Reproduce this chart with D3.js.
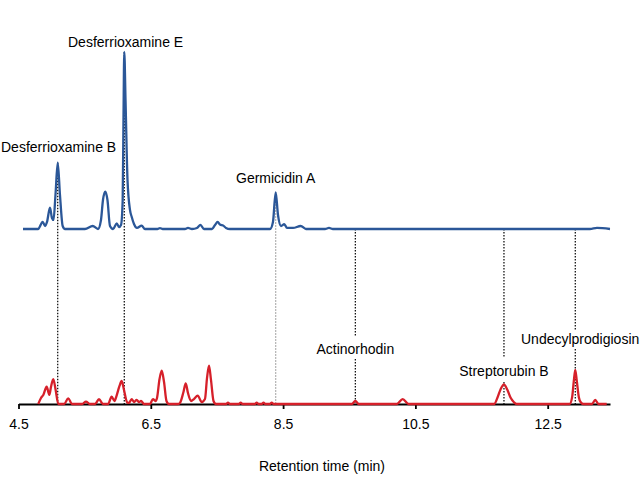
<!DOCTYPE html>
<html>
<head>
<meta charset="utf-8">
<script src="https://cdn.jsdelivr.net/npm/d3@7"></script>
<style>
  html, body { margin: 0; padding: 0; background: #fff; }
  svg text { font-family: "Liberation Sans", Arial, Helvetica, sans-serif; fill: #000; }
</style>
</head>
<body>
<svg id="chart" width="644" height="479"></svg>
<script>
// ---------------- DATA ----------------
// Retention time (min) and relative intensity
const blueTimes = [4.568, 4.795, 4.866, 4.901, 4.931, 4.976, 5.006, 5.029, 5.059, 5.093, 5.127, 5.168, 5.203,
  5.505, 5.622, 5.702, 5.747, 5.777, 5.812, 5.845, 5.883, 5.929, 5.985, 6.019, 6.050, 6.075, 6.087, 6.099,
  6.118, 6.148, 6.186, 6.211, 6.246, 6.291, 6.362, 6.412, 6.600, 6.639, 6.680, 7.017, 7.062, 7.123, 7.198,
  7.251, 7.304, 7.425, 7.471, 7.511, 7.546, 7.596, 7.637, 7.697, 8.302, 8.347, 8.388, 8.423, 8.468, 8.518,
  8.559, 8.650, 8.766, 8.846, 9.133, 9.194, 9.254, 13.139, 13.245, 13.442];
const blueValues = [0, 0, 4.0, 1.7, 4.0, 12.0, 6.2, 5.1, 19.2, 37.5, 19.2, 1.7, 0,
  0, 1.7, 0, 5.1, 16.4, 21.1, 16.4, 1.7, 0, 3.2, 1.1, 2.3, 16.4, 61.6, 100,
  72.9, 27.7, 10.7, 6.9, 2.8, 0.6, 1.9, 0, 0, 0.5, 0, 0, 0.6, 0, 0.6,
  2.3, 0, 0, 2.3, 4.0, 2.5, 1.9, 0.6, 0, 0, 4.0, 20.7, 7.9, 1.7, 2.7,
  0.6, 0.6, 1.7, 0, 0, 0.6, 0, 0, 0.6, 0];

const redTimes = [4.799, 4.840, 4.875, 4.926, 4.966, 4.991, 5.026, 5.059, 5.102, 5.188, 5.253, 5.309,
  5.460, 5.520, 5.581, 5.657, 5.717, 5.777, 5.853, 5.909, 5.951, 5.981, 6.027, 6.060, 6.095, 6.140,
  6.170, 6.211, 6.246, 6.287, 6.322, 6.352, 6.397, 6.488, 6.533, 6.571, 6.594, 6.632, 6.665, 6.700,
  6.737, 6.775, 6.911, 6.941, 6.994, 7.028, 7.062, 7.108, 7.153, 7.209, 7.270, 7.319, 7.350, 7.380,
  7.410, 7.448, 7.486, 7.637, 7.667, 7.697, 7.829, 7.859, 7.889, 8.071, 8.101, 8.131, 8.174, 8.204,
  8.234, 8.298, 8.328, 8.358, 9.540, 9.592, 9.644, 10.220, 10.308, 10.396, 11.693, 11.740, 11.790,
  11.839, 11.890, 11.940, 11.990, 12.031, 12.832, 12.870, 12.895, 12.917, 12.940, 12.970, 13.000,
  13.040, 13.169, 13.219, 13.269, 13.392];
const redValues = [0, 3.4, 5.1, 9.8, 5.1, 9.6, 14.1, 8.5, 0, 0, 3.2, 0,
  0, 1.3, 0, 0, 2.7, 0, 0, 4.1, 1.7, 4.5, 10.2, 13.0, 7.9, 1.1,
  0.6, 2.8, 1.1, 2.3, 1.1, 1.7, 0, 0, 2.8, 1.7, 3.4, 14.1, 18.8, 12.4,
  1.7, 0, 0, 0.6, 6.8, 11.7, 6.2, 1.7, 2.8, 4.7, 1.1, 2.8, 14.7, 21.6,
  13.6, 1.7, 0, 0, 0.7, 0, 0, 0.7, 0, 0, 0.7, 0, 0, 0.7,
  0, 0, 0.7, 0, 0, 1.7, 0, 0, 2.8, 0, 0, 3.5, 8.5,
  11.1, 8.0, 3.5, 1.0, 0, 0, 4.0, 13.0, 19.2, 13.0, 4.0, 1.0,
  0, 0, 2.3, 0, 0];

const compoundNames = ["Desferrioxamine B", "Desferrioxamine E", "Germicidin A",
  "Actinorhodin", "Streptorubin B", "Undecylprodigiosin"];
const compoundTimes = [5.093, 6.099, 8.388, 9.592, 11.839, 12.917];

const tickValues = [4.5, 6.5, 8.5, 10.5, 12.5];
const xAxisTitle = "Retention time (min)";

// ---------------- CHART ----------------
const svg = d3.select("#chart");
const x = d3.scaleLinear().domain([4.5, 13.442]).range([18.5, 610]);
const yBlue = d3.scaleLinear().domain([0, 100]).range([229, 52]);
const yRed = d3.scaleLinear().domain([0, 100]).range([404, 227]);

const blueData = blueTimes.map((t, i) => ({ t, v: blueValues[i] }));
const redData = redTimes.map((t, i) => ({ t, v: redValues[i] }));

const BLUE = "#2b5798";
const RED = "#d6202a";

// label / marker layout (not data)
const layout = {
  "Desferrioxamine B": { anchor: "start", lx: 1, ly: 152, segs: [["peak", "base"]], color: "#000" },
  "Desferrioxamine E": { anchor: "start", lx: 68, ly: 47, segs: [["peak", "base"]], color: "#000" },
  "Germicidin A": { anchor: "middle", lx: 0, ly: 183, segs: [["peak", "base"]], color: "#999" },
  "Actinorhodin": { anchor: "middle", lx: 0, ly: 354, segs: [[229, 337], [359, 404]], color: "#000" },
  "Streptorubin B": { anchor: "middle", lx: 0, ly: 376, segs: [[229, 357], [382, 404]], color: "#000" },
  "Undecylprodigiosin": { anchor: "start", lx: 521, ly: 344, segs: [[229, 331], [349, 404]], color: "#000" }
};

// dotted marker lines (behind traces)
const gMarks = svg.append("g");
compoundNames.forEach((name, i) => {
  const L = layout[name];
  const cx = x(compoundTimes[i]);
  L.segs.forEach(s => {
    let y1 = s[0], y2 = s[1];
    if (y1 === "peak") {
      const near = blueData.reduce((a, b) => Math.abs(b.t - compoundTimes[i]) < Math.abs(a.t - compoundTimes[i]) ? b : a);
      y1 = yBlue(near.v);
    }
    if (y2 === "base") y2 = yRed(0);
    gMarks.append("line")
      .attr("x1", cx).attr("x2", cx).attr("y1", y1).attr("y2", y2)
      .attr("stroke", L.color).attr("stroke-width", 1.2)
      .attr("stroke-dasharray", "1.5,1.5");
  });
});

// axis
const axis = d3.axisBottom(x).tickValues(tickValues).tickSize(5).tickSizeOuter(0).tickPadding(10)
  .tickFormat(d3.format(".1f"));
const gAxis = svg.append("g").attr("transform", `translate(0,${yRed(0)})`).call(axis);
gAxis.select(".domain").attr("stroke", "#000").attr("stroke-width", 1.8);
gAxis.selectAll(".tick line").attr("stroke", "#000").attr("stroke-width", 1.8);
gAxis.selectAll(".tick text").attr("font-size", 14).attr("fill", "#000")
  .attr("font-family", '"Liberation Sans", Arial, sans-serif');

// traces
const lineBlue = d3.line().x(d => x(d.t)).y(d => yBlue(d.v)).curve(d3.curveMonotoneX);
const lineRed = d3.line().x(d => x(d.t)).y(d => yRed(d.v)).curve(d3.curveMonotoneX);

svg.append("path").datum(blueData).attr("d", lineBlue)
  .attr("fill", "none").attr("stroke", BLUE).attr("stroke-width", 2.3).attr("stroke-linejoin", "round");
svg.append("path").datum(redData).attr("d", lineRed)
  .attr("fill", "none").attr("stroke", RED).attr("stroke-width", 2.3).attr("stroke-linejoin", "round");

// compound labels
compoundNames.forEach((name, i) => {
  const L = layout[name];
  const px = L.anchor === "middle" ? x(compoundTimes[i]) : L.lx;
  svg.append("text").attr("x", px).attr("y", L.ly)
    .attr("text-anchor", L.anchor).attr("font-size", 14).text(name);
});

// axis title
svg.append("text").attr("x", 322).attr("y", 471).attr("text-anchor", "middle")
  .attr("font-size", 14).text(xAxisTitle);
</script>
</body>
</html>
